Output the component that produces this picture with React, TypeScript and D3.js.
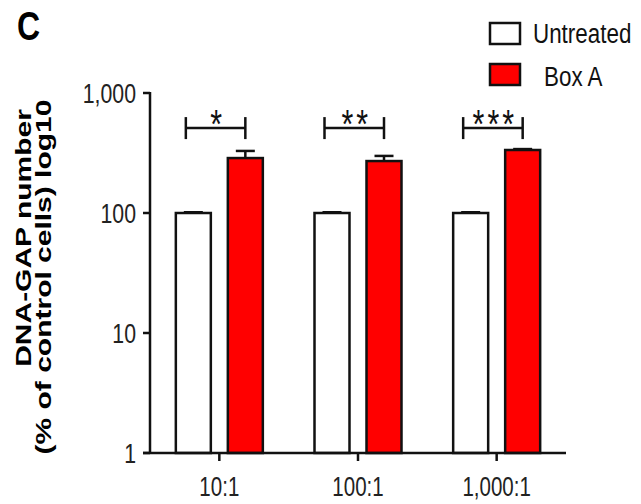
import React from 'react'
import { scaleLog, scaleBand } from 'd3'

const categories = ['10:1', '100:1', '1,000:1']
const series = ['Untreated', 'Box A']
const untreatedValues = [100, 100, 100]
const untreatedSem = [1.5, 1.5, 1.5]
const boxAValues = [287, 271, 335]
const boxASem = [42, 28, 6]
const stars = ['*', '**', '***']
const yTicks = [1, 10, 100, 1000]
const yTickLabels = ['1', '10', '100', '1,000']
const bracketLevel = 510

const colors = { 'Untreated': '#ffffff', 'Box A': '#ff0000' }

const W = 641
const H = 504
const sx = 0.76 // the figure looks squeezed sideways

const App = () => {
  const left = 150, right = 566, top = 93, bottom = 453

  const y = scaleLog().domain([1, 1000]).range([bottom, top])
  const x = scaleBand().domain(categories).range([left, right]).padding(0)
  const bw = x.bandwidth()
  const x1 = scaleBand().domain(series).range([bw / 2 - 43.5, bw / 2 + 43.5]).paddingInner(0.327)
  const barW = x1.bandwidth()

  const bars = categories.flatMap((c, i) => [
    { cat: c, s: 'Untreated', v: untreatedValues[i], e: untreatedSem[i] },
    { cat: c, s: 'Box A', v: boxAValues[i], e: boxASem[i] },
  ])

  const font = 'Liberation Sans, Arial, sans-serif'

  return (
    <svg width={W} height={H} style={{ position: 'absolute', left: 0, top: 0, background: '#fff' }} fontFamily={font}>
      <text transform={`translate(17,40) scale(0.8,1)`} fontSize={40} fontWeight="bold">C</text>

      {/* y label */}
      <text transform={`translate(31,238) scale(0.72,1) rotate(-90)`} fontSize={30} fontWeight="bold" textAnchor="middle">DNA-GAP number</text>
      <text transform={`translate(51,277) scale(0.72,1) rotate(-90)`} fontSize={30} fontWeight="bold" textAnchor="middle">(% of control cells) log10</text>

      {/* bars */}
      {bars.map((d, i) => {
        const bx = x(d.cat)! + x1(d.s)!
        const cx = bx + barW / 2
        const yt = y(d.v)
        const ye = y(d.v + d.e)
        return (
          <g key={i}>
            <line x1={cx} x2={cx} y1={yt} y2={ye} stroke="#111" strokeWidth={2.5} />
            <line x1={cx - 9.5} x2={cx + 9.5} y1={ye} y2={ye} stroke="#111" strokeWidth={2.5} />
            <rect x={bx} y={yt} width={barW} height={bottom - yt} fill={colors[d.s]} stroke="#111" strokeWidth={2.5} />
          </g>
        )
      })}

      {/* axes */}
      <line x1={left} x2={left} y1={top - 1} y2={bottom} stroke="#111" strokeWidth={2.5} />
      <line x1={left - 7} x2={right} y1={bottom} y2={bottom} stroke="#111" strokeWidth={2.5} />
      {yTicks.map((t, i) => (
        <g key={t}>
          <line x1={left - 7} x2={left} y1={y(t)} y2={y(t)} stroke="#111" strokeWidth={2.5} />
          <text transform={`translate(136,${y(t) + 10}) scale(${sx},1)`} fontSize={28} textAnchor="end" fill="#222">{yTickLabels[i]}</text>
        </g>
      ))}
      {categories.map(c => {
        const cx = x(c)! + bw / 2
        return (
          <g key={c}>
            <line x1={cx} x2={cx} y1={bottom} y2={bottom + 8} stroke="#111" strokeWidth={2.5} />
            <text transform={`translate(${cx},496) scale(${sx},1)`} fontSize={27} textAnchor="middle" fill="#222">{c}</text>
          </g>
        )
      })}

      {/* significance brackets */}
      {categories.map((c, i) => {
        const x0 = x(c)! + x1('Untreated')! + 10
        const xe = x(c)! + x1('Box A')! + barW / 2
        const by = y(bracketLevel)
        return (
          <g key={c}>
            <line x1={x0} x2={xe} y1={by} y2={by} stroke="#111" strokeWidth={2.5} />
            <line x1={x0} x2={x0} y1={by - 11} y2={by + 11} stroke="#111" strokeWidth={2.5} />
            <line x1={xe} x2={xe} y1={by - 11} y2={by + 11} stroke="#111" strokeWidth={2.5} />
            <text transform={`translate(${(x0 + xe) / 2 + 2},${by + 10}) scale(${sx},1)`} fontSize={40} textAnchor="middle" letterSpacing={4} fill="#111">{stars[i]}</text>
          </g>
        )
      })}

      {/* legend */}
      {series.map((s, i) => (
        <g key={s}>
          <rect x={490} y={23 + i * 41} width={30} height={21} fill={colors[s]} stroke="#111" strokeWidth={2.5} />
          <text transform={`translate(${i === 0 ? 533 : 544},${43 + i * 43}) scale(0.8,1)`} fontSize={28} fill="#111">{s}</text>
        </g>
      ))}
    </svg>
  )
}

export default App
